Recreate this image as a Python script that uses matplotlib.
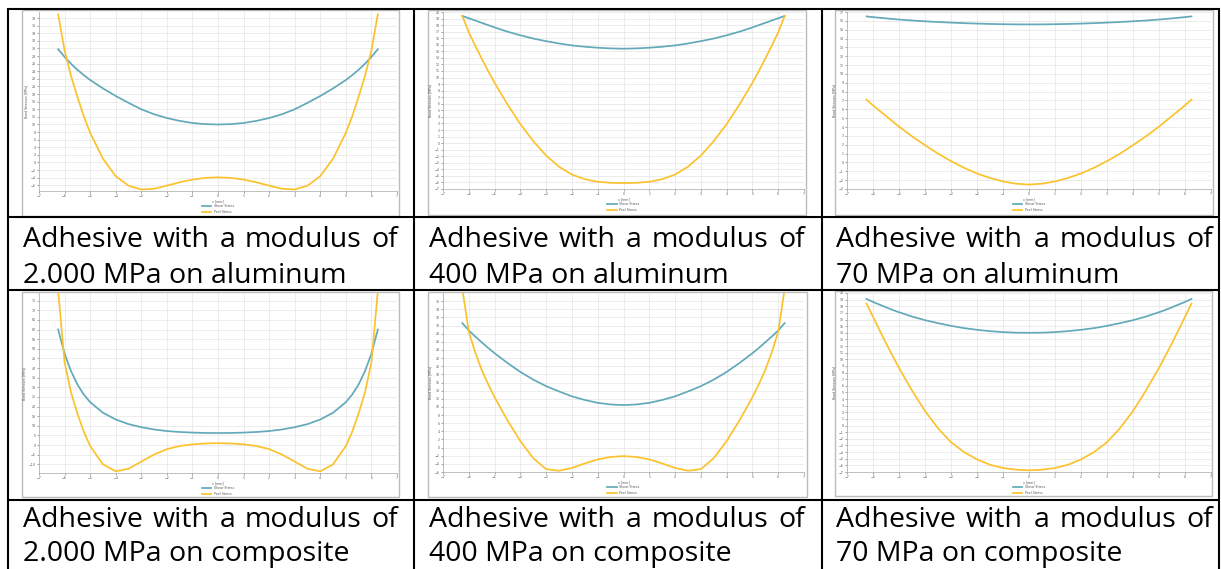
import matplotlib
matplotlib.use("Agg")
import matplotlib.pyplot as plt
from matplotlib.patches import Rectangle

W, H = 1221, 569

# ---------------- data ----------------
x_mm = [-6.25, -6.0, -5.75, -5.5, -5.25, -5.0, -4.5, -4.0, -3.5, -3.0, -2.5, -2.0, -1.5, -1.0, -0.5, 0.0,
        0.5, 1.0, 1.5, 2.0, 2.5, 3.0, 3.5, 4.0, 4.5, 5.0, 5.25, 5.5, 5.75, 6.0, 6.25]

shear_2000_al = [29.8, 27.8, 26.0, 24.4, 23.0, 21.7, 19.5, 17.5, 15.7, 14.0, 12.7, 11.7, 10.95, 10.4, 10.1, 10.0,
                 10.1, 10.4, 10.95, 11.7, 12.7, 14.0, 15.7, 17.5, 19.5, 21.7, 23.0, 24.4, 26.0, 27.8, 29.8]
peel_2000_al = [39.0, 29.5, 22.8, 17.3, 12.2, 7.8, 1.0, -3.6, -6.1, -7.1, -6.9, -6.1, -5.2, -4.5, -4.05, -3.9,
                -4.05, -4.5, -5.2, -6.1, -6.9, -7.1, -6.1, -3.6, 1.0, 7.8, 12.2, 17.3, 22.8, 29.5, 39.0]

shear_400_al = [19.4, 19.05, 18.7, 18.35, 18.0, 17.65, 17.0, 16.45, 15.95, 15.55, 15.2, 14.9, 14.7, 14.55, 14.45, 14.4,
                14.45, 14.55, 14.7, 14.9, 15.2, 15.55, 15.95, 16.45, 17.0, 17.65, 18.0, 18.35, 18.7, 19.05, 19.4]
peel_400_al = [19.4, 16.9, 14.85, 12.9, 11.0, 9.2, 5.9, 2.9, 0.3, -1.9, -3.6, -4.8, -5.5, -5.9, -6.05, -6.1,
               -6.05, -5.9, -5.5, -4.8, -3.6, -1.9, 0.3, 2.9, 5.9, 9.2, 11.0, 12.9, 14.85, 16.9, 19.4]

shear_70_al = [16.5, 16.42, 16.35, 16.28, 16.21, 16.15, 16.04, 15.95, 15.87, 15.8, 15.74, 15.69, 15.65, 15.62, 15.6, 15.6,
               15.6, 15.62, 15.65, 15.69, 15.74, 15.8, 15.87, 15.95, 16.04, 16.15, 16.21, 16.28, 16.35, 16.42, 16.5]
peel_70_al = [7.1, 6.45, 5.85, 5.25, 4.65, 4.05, 2.95, 1.95, 1.0, 0.15, -0.6, -1.25, -1.75, -2.15, -2.4, -2.5,
              -2.4, -2.15, -1.75, -1.25, -0.6, 0.15, 1.0, 1.95, 2.95, 4.05, 4.65, 5.25, 5.85, 6.45, 7.1]

shear_2000_co = [60.0, 47.5, 38.5, 31.5, 26.3, 22.3, 16.8, 13.3, 10.9, 9.3, 8.1, 7.3, 6.8, 6.5, 6.3, 6.25,
                 6.3, 6.5, 6.8, 7.3, 8.1, 9.3, 10.9, 13.3, 16.8, 22.3, 26.3, 31.5, 38.5, 47.5, 60.0]
peel_2000_co = [80.0, 43.0, 27.5, 16.5, 7.0, -0.5, -10.0, -13.6, -12.3, -8.6, -4.9, -2.1, -0.5, 0.4, 0.85, 1.0,
                0.85, 0.4, -0.5, -2.1, -4.9, -8.6, -12.3, -13.6, -10.0, -0.5, 7.0, 16.5, 27.5, 43.0, 80.0]

shear_400_co = [30.6, 28.8, 27.3, 25.9, 24.5, 23.2, 20.8, 18.6, 16.7, 15.1, 13.8, 12.6, 11.7, 11.0, 10.6, 10.45,
                10.6, 11.0, 11.7, 12.6, 13.8, 15.1, 16.7, 18.6, 20.8, 23.2, 24.5, 25.9, 27.3, 28.8, 30.6]
peel_400_co = [39.0, 28.5, 23.4, 19.1, 15.6, 12.4, 6.7, 1.6, -2.6, -5.3, -5.7, -5.0, -3.9, -2.9, -2.3, -2.1,
               -2.3, -2.9, -3.9, -5.0, -5.7, -5.3, -2.6, 1.6, 6.7, 12.4, 15.6, 19.1, 23.4, 28.5, 39.0]

shear_70_co = [19.1, 18.65, 18.25, 17.85, 17.45, 17.1, 16.45, 15.9, 15.45, 15.05, 14.7, 14.45, 14.25, 14.1, 14.02, 14.0,
               14.02, 14.1, 14.25, 14.45, 14.7, 15.05, 15.45, 15.9, 16.45, 17.1, 17.45, 17.85, 18.25, 18.65, 19.1]
peel_70_co = [18.4, 16.4, 14.4, 12.45, 10.55, 8.7, 5.3, 2.2, -0.4, -2.5, -4.0, -5.1, -5.9, -6.4, -6.65, -6.75,
              -6.65, -6.4, -5.9, -5.1, -4.0, -2.5, -0.4, 2.2, 5.3, 8.7, 10.55, 12.45, 14.4, 16.4, 18.4]

x_ticks = [-7, -6, -5, -4, -3, -2, -1, 0, 1, 2, 3, 4, 5, 6, 7]
yticks_2000_al = list(range(-6, 39, 2))
yticks_400_al = list(range(-7, 21, 1))
yticks_70_al = list(range(-3, 18, 1))
yticks_2000_co = list(range(-10, 76, 5))
yticks_400_co = list(range(-6, 37, 2))
yticks_70_co = list(range(-7, 21, 1))

captions = [
    "2.000 MPa on aluminum", "400 MPa on aluminum", "70 MPa on aluminum",
    "2.000 MPa on composite", "400 MPa on composite", "70 MPa on composite",
]
caption_first = ["Adhesive", "with", "a", "modulus", "of"]
series_names = ["Shear Stress", "Peel Stress"]

# ---------------- layout / style ----------------
SHEAR = "#62a9b9"
PEEL = "#fcc22c"
GRID = "#e4e4e4"
TICK = "#5a5a5a"
FS_SMALL = 2.3

panels = [
    dict(sh=shear_2000_al, pe=peel_2000_al, yt=yticks_2000_al, yl=(-7.5, 39.6),
         plot=(39, 397, 12, 191), box=(22, 399, 10, 216)),
    dict(sh=shear_400_al, pe=peel_400_al, yt=yticks_400_al, yl=(-7, 20),
         plot=(443, 804, 12, 189), box=(428, 806, 10, 215)),
    dict(sh=shear_70_al, pe=peel_70_al, yt=yticks_70_al, yl=(-3, 17),
         plot=(847, 1211, 12, 189), box=(835, 1213, 10, 215)),
    dict(sh=shear_2000_co, pe=peel_2000_co, yt=yticks_2000_co, yl=(-14.5, 79),
         plot=(39, 397, 293, 473), box=(22, 399, 292, 497)),
    dict(sh=shear_400_co, pe=peel_400_co, yt=yticks_400_co, yl=(-6, 38),
         plot=(443, 804, 293, 472), box=(428, 807, 292, 497)),
    dict(sh=shear_70_co, pe=peel_70_co, yt=yticks_70_co, yl=(-7, 20),
         plot=(847, 1211, 293, 472), box=(835, 1212, 291, 496)),
]


def px_rect(x0, x1, y0, y1):
    return [x0 / W, 1 - y1 / H, (x1 - x0) / W, (y1 - y0) / H]


fig = plt.figure(figsize=(W / 100, H / 100), dpi=100)
fig.patch.set_facecolor("white")

bg = fig.add_axes([0, 0, 1, 1], zorder=0)
bg.set_xlim(0, W)
bg.set_ylim(H, 0)
bg.axis("off")

# table lines
LW = 1.5
for y in [9, 217, 290, 500]:
    bg.plot([7, 1220], [y, y], color="black", lw=LW, solid_capstyle="butt")
for x in [8, 414, 822, 1219]:
    bg.plot([x, x], [8, 569], color="black", lw=LW, solid_capstyle="butt")

for p in panels:
    bx0, bx1, by0, by1 = p["box"]
    bg.add_patch(Rectangle((bx0, by0), bx1 - bx0, by1 - by0, fill=False,
                           edgecolor="#bcbcbc", lw=1.0))

for p in panels:
    x0, x1, y0, y1 = p["plot"]
    ax = fig.add_axes(px_rect(x0, x1, y0, y1), zorder=2)
    ax.set_facecolor("none")
    ax.plot(x_mm, p["sh"], color=SHEAR, lw=1.25, label=series_names[0],
            solid_joinstyle="round")
    ax.plot(x_mm, p["pe"], color=PEEL, lw=1.25, label=series_names[1],
            solid_joinstyle="round")
    ax.set_xlim(-7, 7)
    ax.set_ylim(*p["yl"])
    ax.set_xticks(x_ticks)
    ax.set_yticks(p["yt"])
    ax.grid(True, color=GRID, lw=0.5)
    ax.set_axisbelow(True)
    for s in ["top", "right"]:
        ax.spines[s].set_visible(False)
    for s in ["left", "bottom"]:
        ax.spines[s].set_color("#b5b5b5")
        ax.spines[s].set_linewidth(0.6)
    ax.tick_params(labelsize=FS_SMALL, length=1.2, width=0.4, pad=1.2,
                   colors=TICK)
    ax.set_xlabel("x [mm]", fontsize=FS_SMALL, labelpad=1, color=TICK)
    ax.set_ylabel("Bond Stresses [MPa]", fontsize=FS_SMALL, labelpad=2, color=TICK)
    h = y1 - y0
    ax.legend(loc="upper center", bbox_to_anchor=(0.5, -(11.5 / h)),
              fontsize=FS_SMALL, frameon=False, handlelength=3.0,
              labelspacing=0.6, borderpad=0, handletextpad=0.8,
              labelcolor=TICK)

# captions (first line justified across the cell)
FS_CAP = 20.5
CAP_FONT = "Open Sans"
cols = [(23, 398), (429, 805), (836, 1213)]
rows = [(247, 283), (527, 561)]
fig.canvas.draw()
renderer = fig.canvas.get_renderer()
for i, cap in enumerate(captions):
    left, right = cols[i % 3]
    b1, b2 = rows[i // 3]
    texts = [bg.text(left, b1, w, fontsize=FS_CAP, family=CAP_FONT, va="baseline",
                     ha="left", color="black") for w in caption_first]
    widths = [t.get_window_extent(renderer).width for t in texts]
    gap = (right - left - sum(widths)) / (len(texts) - 1)
    xx = left
    for t, w in zip(texts, widths):
        t.set_x(xx)
        xx += w + gap
    bg.text(left, b2, cap, fontsize=FS_CAP, family=CAP_FONT, va="baseline",
            ha="left", color="black")

fig.savefig("out.png", dpi=100, facecolor="white")
